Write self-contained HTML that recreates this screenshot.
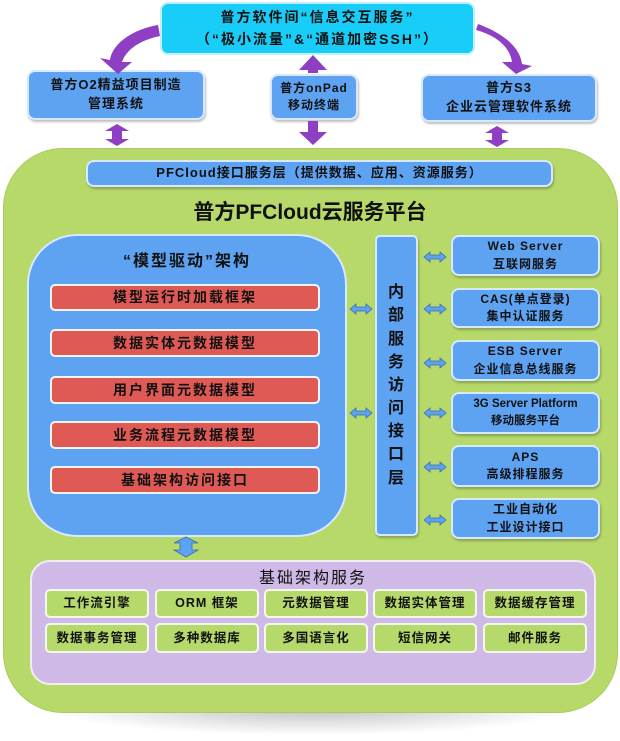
<!DOCTYPE html>
<html><head><meta charset="utf-8"><style>
body{margin:0;width:620px;height:741px;background:#fff;position:relative;overflow:hidden;font-family:"Liberation Sans","Noto Sans CJK SC",sans-serif;font-weight:bold;color:#111}
.a{position:absolute;box-sizing:border-box;display:flex;align-items:center;justify-content:center;text-align:center;line-height:1.45}
.b{background:#5ea2f2;border:2px solid #d8e8ff;border-radius:8px;font-size:12px;letter-spacing:1px;box-shadow:1px 2px 2px rgba(0,0,0,.25)}
.r{background:#e05a55;border:2px solid #f4f4f4;border-radius:5px;font-size:14px;letter-spacing:2px}
.g{background:#b5d96a;border:2px solid #f4f8ec;border-radius:5px;font-size:12.5px;letter-spacing:1px}
svg{position:absolute;left:0;top:0}
</style></head><body>
<div class="a" style="left:0;top:700px;width:620px;height:40px;background:radial-gradient(ellipse at 50% 20%,rgba(0,0,0,.25),rgba(0,0,0,0) 60%)"></div>
<div class="a" style="left:3px;top:148px;width:615px;height:565px;background:#b6d96a;border-radius:60px;border:1px solid #a8cc5c"></div>
<div class="a" style="left:160px;top:2px;width:315px;height:53px;background:#18cdf7;border:2px solid #bff0ff;border-radius:8px;font-size:14px;letter-spacing:2px;line-height:1.55">普方软件间“信息交互服务”<br>（“极小流量”&amp;“通道加密SSH”）</div>
<div class="a b" style="left:27px;top:70px;width:178px;height:50px;font-size:13px">普方O2精益项目制造<br>管理系统</div>
<div class="a b" style="left:270px;top:74px;width:88px;height:46px">普方onPad<br>移动终端</div>
<div class="a b" style="left:421px;top:74px;width:176px;height:48px;font-size:13px">普方S3<br>企业云管理软件系统</div>
<div class="a b" style="left:86px;top:160px;width:467px;height:27px;font-size:13px">PFCloud接口服务层（提供数据、应用、资源服务）</div>
<div class="a" style="left:0;top:197px;width:620px;height:32px;font-size:21px">普方PFCloud云服务平台</div>
<div class="a" style="left:27px;top:234px;width:320px;height:303px;background:#5ea2f2;border:2px solid #d8e8ff;border-radius:50px;align-items:flex-start;padding-top:14px;font-size:16px;letter-spacing:2px">“模型驱动”架构</div>
<div class="a r" style="left:50px;top:284px;width:270px;height:27px">模型运行时加载框架</div>
<div class="a r" style="left:50px;top:329px;width:270px;height:28px">数据实体元数据模型</div>
<div class="a r" style="left:50px;top:376px;width:270px;height:28px">用户界面元数据模型</div>
<div class="a r" style="left:50px;top:421px;width:270px;height:28px">业务流程元数据模型</div>
<div class="a r" style="left:50px;top:466px;width:270px;height:28px">基础架构访问接口</div>
<div class="a b" style="left:375px;top:235px;width:43px;height:301px;font-size:16px;line-height:1.45;border-radius:5px">内<br>部<br>服<br>务<br>访<br>问<br>接<br>口<br>层</div>
<div class="a b" style="left:451px;top:235px;width:149px;height:41px">Web Server<br>互联网服务</div>
<div class="a b" style="left:451px;top:288px;width:149px;height:40px">CAS(单点登录)<br>集中认证服务</div>
<div class="a b" style="left:451px;top:340px;width:149px;height:41px">ESB Server<br>企业信息总线服务</div>
<div class="a b" style="left:451px;top:392px;width:149px;height:42px;letter-spacing:0;font-size:11.5px">3G Server Platform<br>移动服务平台</div>
<div class="a b" style="left:451px;top:445px;width:149px;height:42px">APS<br>高级排程服务</div>
<div class="a b" style="left:451px;top:498px;width:149px;height:41px">工业自动化<br>工业设计接口</div>
<div class="a" style="left:30px;top:560px;width:566px;height:125px;background:#cfb9e6;border:2px solid #f2ecf8;border-radius:20px;align-items:flex-start;padding-top:5px;font-size:16px;font-weight:normal;letter-spacing:2px">基础架构服务</div>
<div class="a g" style="left:45px;top:589px;width:104px;height:29px">工作流引擎</div>
<div class="a g" style="left:155px;top:589px;width:104px;height:29px">ORM 框架</div>
<div class="a g" style="left:264px;top:589px;width:104px;height:29px">元数据管理</div>
<div class="a g" style="left:373px;top:589px;width:104px;height:29px">数据实体管理</div>
<div class="a g" style="left:483px;top:589px;width:104px;height:29px">数据缓存管理</div>
<div class="a g" style="left:45px;top:623px;width:104px;height:30px">数据事务管理</div>
<div class="a g" style="left:155px;top:623px;width:104px;height:30px">多种数据库</div>
<div class="a g" style="left:264px;top:623px;width:104px;height:30px">多国语言化</div>
<div class="a g" style="left:373px;top:623px;width:104px;height:30px">短信网关</div>
<div class="a g" style="left:483px;top:623px;width:104px;height:30px">邮件服务</div>
<svg width="620" height="741">
<defs>
<g id="lr"><polygon points="0,0 6,-5 6,-2 16,-2 16,-5 22,0 16,5 16,2 6,2 6,5" fill="#5ea2f2" stroke="#3a6fb0" stroke-width=".8"/></g>
</defs>
<g fill="#8e3fc4">
<path d="M158,25 C130,30 112,45 110,60 L100,58 L118,74 L132,62 L122,62 C126,50 140,40 160,36 Z"/>
<path d="M476,30 C498,36 510,48 512,62 L502,62 L516,74 L532,66 L522,64 C520,48 505,34 478,24 Z"/>
<polygon points="313,55 327,70 318,70 318,73 308,73 308,70 299,70"/>
<polygon points="313,145 327,132 318,132 318,121 308,121 308,132 299,132"/>
<polygon points="117,124 129,131 122,131 122,139 129,139 117,146 105,139 112,139 112,131 105,131"/>
<polygon points="497,126 509,133 502,133 502,140 509,140 497,147 485,140 492,140 492,133 485,133"/></g>
<g fill="#5ea2f2" stroke="#3a6fb0" stroke-width=".8"><polygon points="186,537 198,543 192,543 192,550 198,550 186,557 174,550 180,550 180,543 174,543"/></g>
<use href="#lr" x="350" y="309"/><use href="#lr" x="350" y="413"/>
<use href="#lr" x="424" y="257"/><use href="#lr" x="424" y="309"/><use href="#lr" x="424" y="363"/>
<use href="#lr" x="424" y="413"/><use href="#lr" x="424" y="467"/><use href="#lr" x="424" y="520"/>
</svg>
</body></html>
